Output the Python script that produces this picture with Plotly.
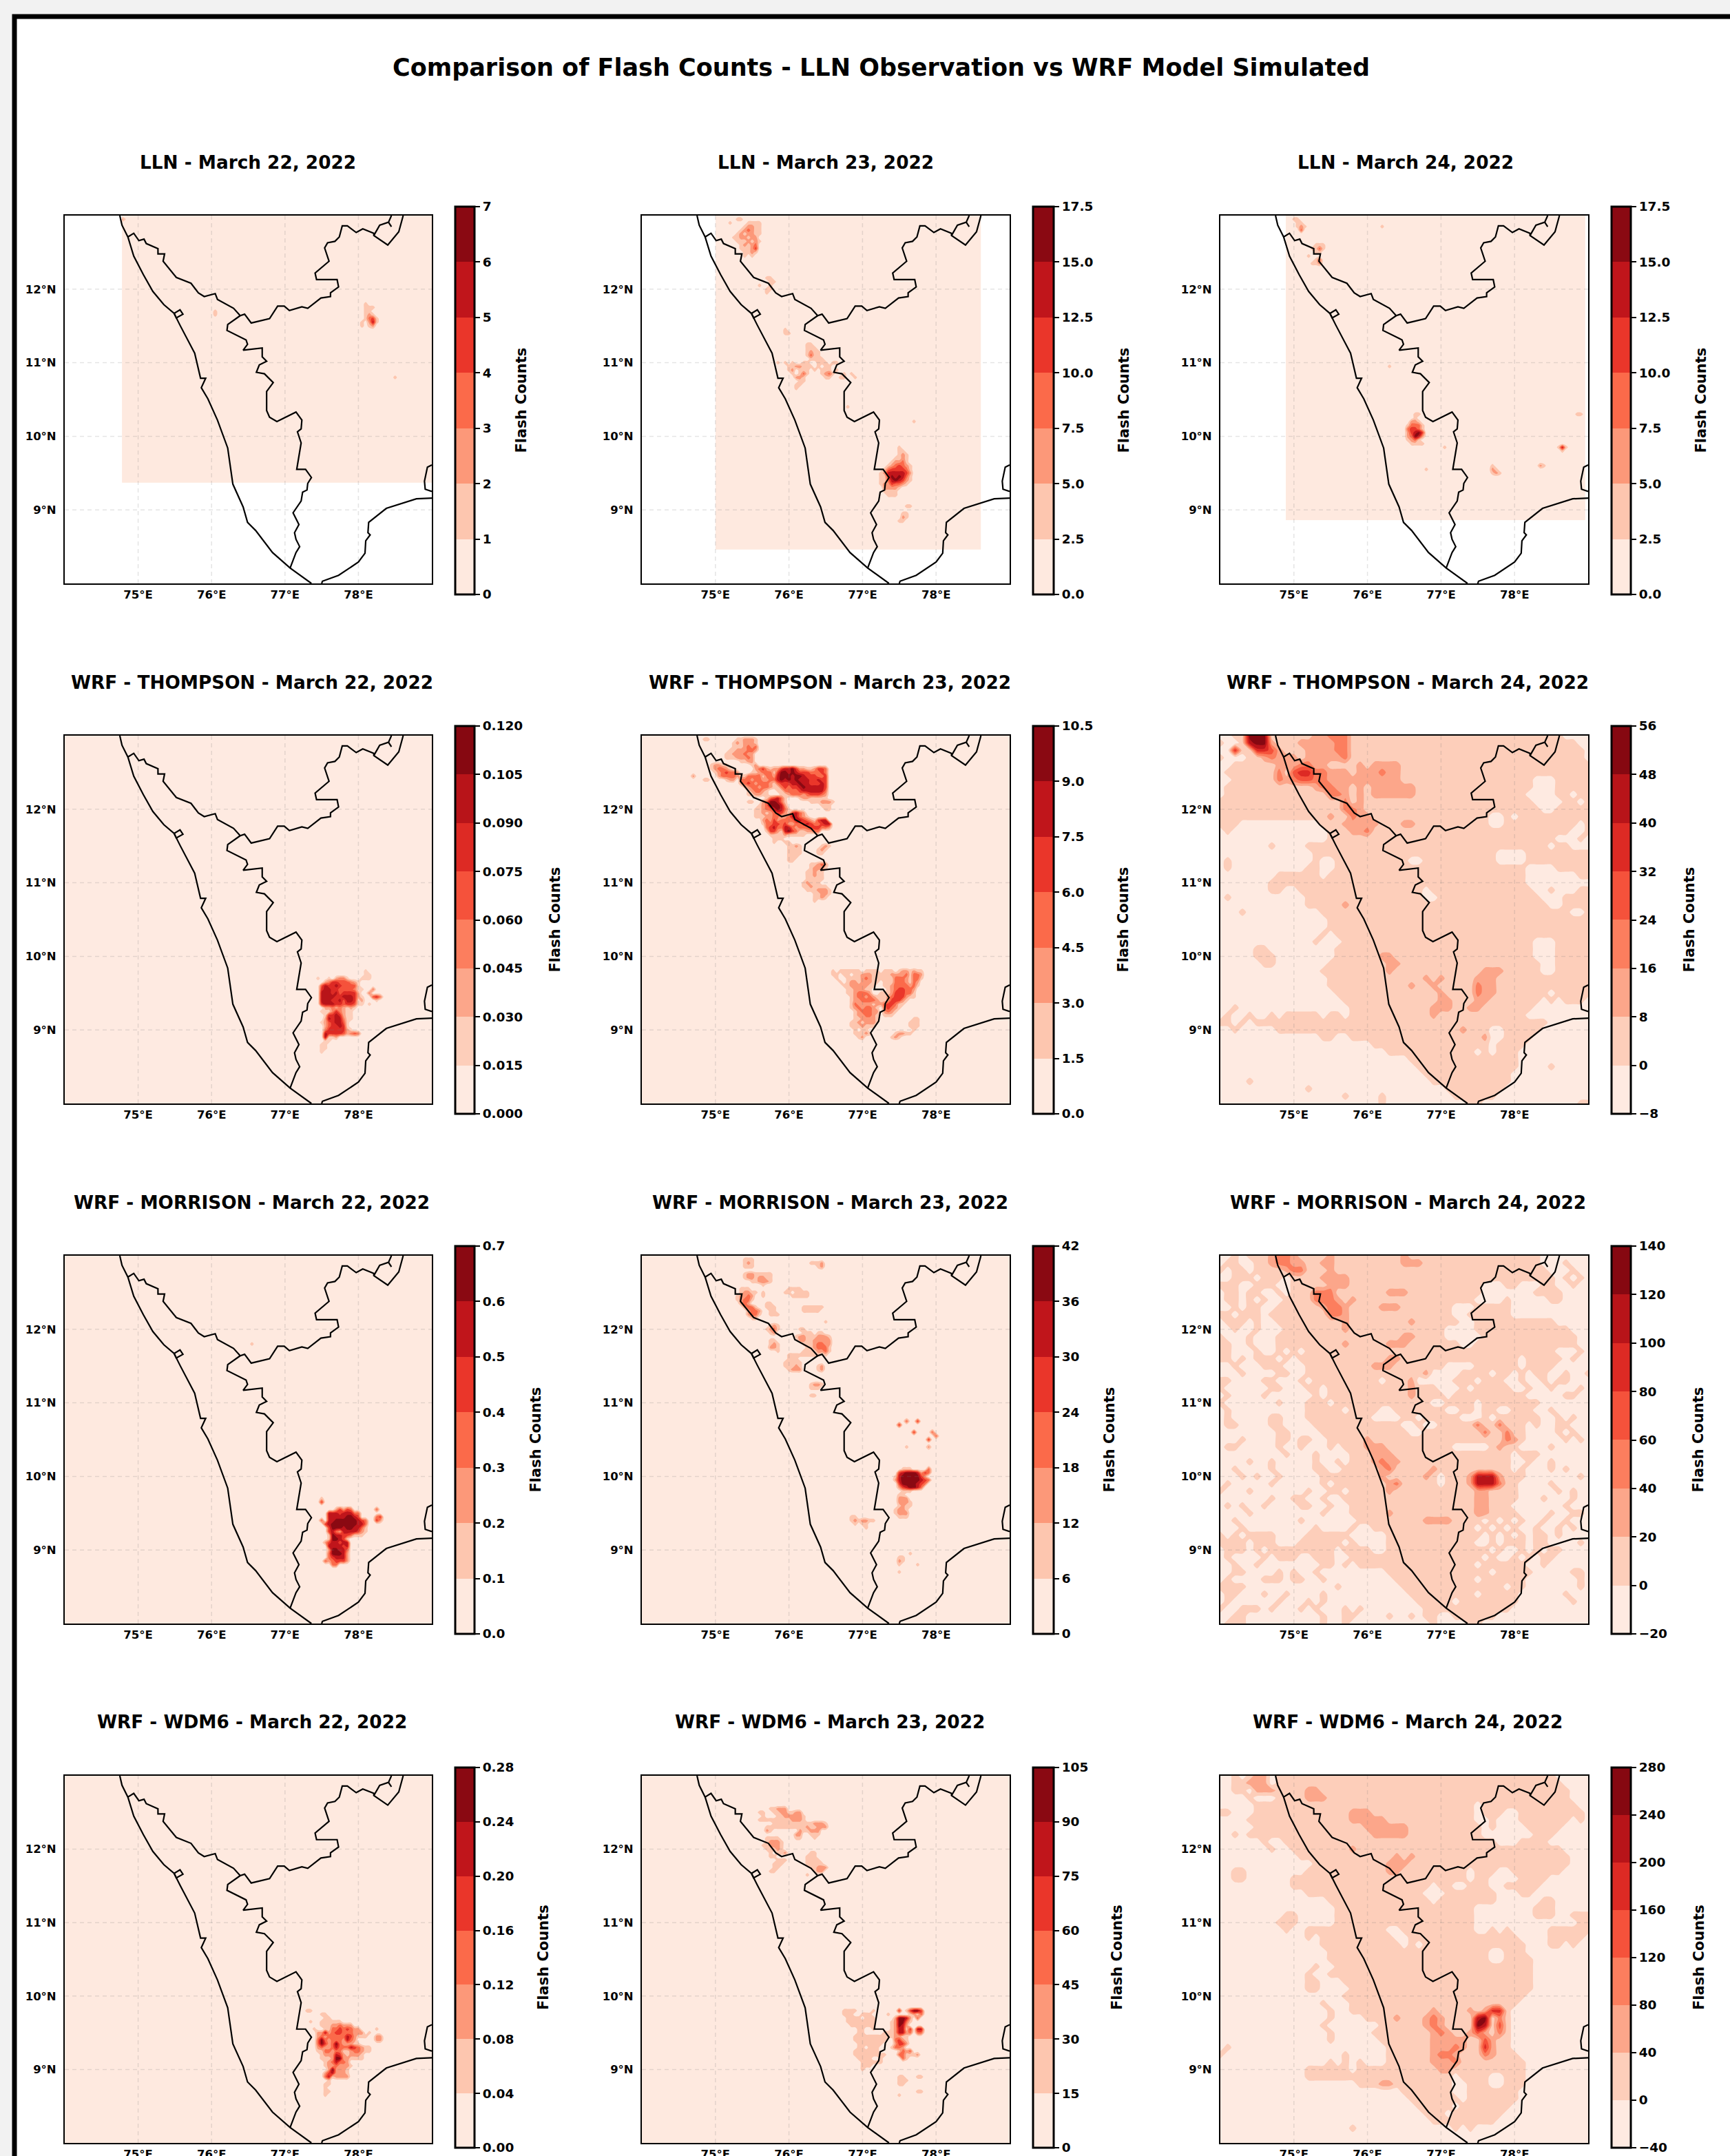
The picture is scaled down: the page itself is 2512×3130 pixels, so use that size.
import numpy as np
import plotly.graph_objects as go

W, H = 2512, 3130
MAIN_TITLE = "Comparison of Flash Counts - LLN Observation vs WRF Model Simulated"
BAR_TITLE = "Flash Counts"

# ---------- map outlines (lon, lat) ----------
WEST_COAST = [(74.75,13.0),(74.78,12.87),(74.86,12.71),(74.94,12.45),(75.07,12.20),(75.20,11.97),(75.35,11.79),(75.49,11.67),
 (75.57,11.51),(75.67,11.32),(75.77,11.13),(75.85,10.79),(75.92,10.79),(75.86,10.66),(75.95,10.51),(76.08,10.22),(76.22,9.84),
 (76.29,9.35),(76.43,9.04),(76.49,8.83),(76.60,8.72),(76.83,8.42),(77.07,8.21),(77.36,8.0)]
NORTH_BORDER = [(74.86,12.71),(74.94,12.76),(75.01,12.66),(75.08,12.68),(75.11,12.62),(75.27,12.55),(75.27,12.48),(75.36,12.48),
 (75.34,12.38),(75.52,12.16),(75.72,12.08),(75.82,11.95),(75.90,11.90),(76.05,11.94),(76.08,11.86),(76.30,11.74),(76.39,11.64),
 (76.45,11.66),(76.54,11.54),(76.79,11.60),(76.90,11.77),(76.99,11.77),(77.06,11.71),(77.23,11.76),(77.31,11.74),(77.49,11.88),
 (77.62,11.90),(77.62,11.95),(77.73,12.03),(77.71,12.13),(77.43,12.13),(77.41,12.22),(77.60,12.38),(77.54,12.56),(77.58,12.63),
 (77.68,12.65),(77.74,12.71),(77.78,12.86),(77.85,12.86),(77.97,12.77),(78.06,12.82),(78.21,12.76),(78.21,12.73),(78.40,12.60),
 (78.55,12.78),(78.61,13.0)]
NORTH_BRANCH = [(78.21,12.73),(78.29,12.87),(78.41,12.91),(78.45,13.0)]
NORTH_STUB = [(78.41,12.91),(78.45,12.85)]
EAST_BORDER = [(76.39,11.64),(76.22,11.52),(76.21,11.44),(76.47,11.31),(76.49,11.25),(76.43,11.17),(76.69,11.20),(76.69,11.08),
 (76.75,11.02),(76.65,10.97),(76.61,10.87),(76.72,10.85),(76.84,10.73),(76.75,10.61),(76.75,10.35),(76.79,10.26),(76.89,10.20),
 (77.15,10.33),(77.23,10.22),(77.22,10.10),(77.17,10.06),(77.22,9.91),(77.16,9.55),(77.28,9.55),(77.36,9.44),(77.31,9.36),
 (77.30,9.27),(77.24,9.24),(77.22,9.12),(77.11,8.96),(77.19,8.80),(77.13,8.69),(77.15,8.60),(77.20,8.50),(77.15,8.42),(77.07,8.21)]
MAHE = [(75.49,11.67),(75.57,11.72),(75.61,11.66),(75.52,11.61),(75.49,11.67)]
EAST_COAST = [(77.5,8.0),(77.51,8.03),(77.73,8.11),(78.0,8.29),(78.09,8.41),(78.10,8.58),(78.16,8.66),(78.13,8.69),(78.14,8.83),
 (78.38,9.02),(78.79,9.15),(79.0,9.16)]
ISLAND = [(79.0,9.61),(78.94,9.58),(78.90,9.39),(78.91,9.28),(79.0,9.25)]
OUTLINES = [WEST_COAST, NORTH_BORDER, NORTH_BRANCH, NORTH_STUB, EAST_BORDER, MAHE, EAST_COAST, ISLAND]

GRID_LONS = [75, 76, 77, 78]
GRID_LATS = [9, 10, 11, 12]
LON_LABELS = ["75°E", "76°E", "77°E", "78°E"]
LAT_LABELS = ["9°N", "10°N", "11°N", "12°N"]

# ---------- colour-bar labels per panel ----------
TICKS_LLN22 = ["0","1","2","3","4","5","6","7"]
TICKS_LLN23 = ["0.0","2.5","5.0","7.5","10.0","12.5","15.0","17.5"]
TICKS_TH22 = ["0.000","0.015","0.030","0.045","0.060","0.075","0.090","0.105","0.120"]
TICKS_TH23 = ["0.0","1.5","3.0","4.5","6.0","7.5","9.0","10.5"]
TICKS_TH24 = ["\u22128","0","8","16","24","32","40","48","56"]
TICKS_MO22 = ["0.0","0.1","0.2","0.3","0.4","0.5","0.6","0.7"]
TICKS_MO23 = ["0","6","12","18","24","30","36","42"]
TICKS_MO24 = ["\u221220","0","20","40","60","80","100","120","140"]
TICKS_WD22 = ["0.00","0.04","0.08","0.12","0.16","0.20","0.24","0.28"]
TICKS_WD23 = ["0","15","30","45","60","75","90","105"]
TICKS_WD24 = ["\u221240","0","40","80","120","160","200","240","280"]

# ---------- flash-count classes read from the maps ----------
# each row: (latitude, first longitude, class digit every 0.05 degrees); unlisted cells are class 0
LLN_22 = [(12.95,74.8,"2"),(11.8,78.1,"1"),(11.75,78.1,"111"),(11.7,78.1,"11"),(11.65,78.1,"121"),(11.6,78.1,"1341"),
 (11.55,78.05,"10251"),(11.5,78.05,"1012"),(11.7,76.05,"1"),(11.65,76.05,"1"),(10.8,78.5,"1")]
LLN_23 = [(12.95,75.25,"0110"),(12.9,75.2,"1000011110"),(12.85,75.2,"0000122110"),(12.8,75.2,"000123211"),(12.75,75.25,"01212211"),
 (12.7,75.25,"1122122"),(12.65,75.3,"1112121"),(12.6,75.35,"12123"),(12.55,75.35,"11124"),(12.5,75.4,"1121"),(12.45,75.4,"101"),
 (12.15,75.7,"11"),(12.1,75.7,"011"),(12.05,75.6,"1001"),(12.0,75.7,"11"),(11.95,75.7,"1"),
 (11.45,75.95,"1"),(11.4,75.95,"11"),(11.25,76.25,"11"),(11.2,76.25,"111"),(11.15,76.25,"1211"),(11.1,76.2,"01311"),
 (11.05,76.25,"01111"),(11.0,75.85,"10101001100111011"),(10.95,75.95,"01122111010110"),(10.9,76.0,"12011101011101"),
 (10.85,76.05,"10131000123100101"),(10.8,76.1,"22100000110011001"),(10.75,76.15,"11"),(10.7,76.1,"11"),(10.65,76.1,"1"),
 (10.4,76.8,"1"),(10.2,77.7,"1"),(9.85,77.5,"1"),(9.8,77.5,"11"),(9.75,77.5,"121"),(9.7,77.45,"1121"),(9.65,77.4,"12231"),
 (9.6,77.35,"1234321"),(9.55,77.3,"13444431"),(9.5,77.25,"125555542"),(9.45,77.25,"114656531"),(9.4,77.25,"113565421"),
 (9.35,77.25,"12243321"),(9.3,77.3,"22221"),(9.25,77.3,"1111"),(9.2,77.35,"111"),(9.05,77.6,"11"),(8.95,77.55,"11"),
 (8.9,77.55,"21"),(8.85,77.5,"11")]
LLN_24 = [(12.95,75.0,"11"),(12.9,75.05,"11"),(12.85,75.05,"121"),(12.8,75.1,"3"),(12.6,75.3,"111"),(12.55,75.25,"1131"),(12.5,75.3,"11"),
 (12.45,75.2,"1"),(12.4,75.3,"13"),(12.35,75.25,"112"),(10.3,76.65,"11"),(10.25,76.65,"1"),(10.2,76.6,"221"),(10.15,76.55,"13331"),
 (10.1,76.55,"34431"),(10.05,76.55,"24564"),(10.0,76.55,"23652"),(9.95,76.55,"1231"),(9.9,76.6,"1111"),(9.85,78.6,"151"),(9.8,78.65,"1"),
 (9.6,77.7,"1"),(9.55,77.7,"21"),(9.5,77.7,"121"),(9.6,78.35,"21"),(10.3,78.85,"11"),(10.95,76.3,"1"),(9.85,77.05,"1"),(9.55,76.8,"1"),(12.85,76.2,"1")]
TH_22 = [(9.7,77.45,"1001023310"),(9.65,77.5,"02355444321"),(9.6,77.45,"04655654444 10"),(9.55,77.45,"0566554444311"),(9.5,77.45,"0666564555520"),
 (9.45,77.45,"06666556665 21"),(9.4,77.45,"0666556466512"),(9.35,77.45,"056665545541101"),(9.3,77.5,"0223232121"),(9.25,77.5,"111353211"),
 (9.2,77.5,"015565211"),(9.15,77.5,"026566311"),(9.1,77.5,"124566410"),(9.05,77.55,"2455651"),(9.0,77.55,"35555521"),(8.95,77.55,"6555542343"),
 (8.9,77.55,"6112"),(8.85,77.55,"11"),(8.8,77.5,"11"),(8.75,77.5,"11"),(8.7,77.5,"1"),(9.8,78.1,"1"),(9.75,78.1,"11"),(9.7,78.05,"111"),
 (9.55,78.2,"3"),(9.5,78.1,"030"),(9.45,78.2,"453"),(9.4,78.25,"1")]
TH_23 = [(12.95,75.3,"112221"),(12.9,75.25,"1212221"),(12.85,75.25,"1112323"),(12.8,75.2,"11222332"),(12.75,75.15,"11222322"),(12.7,75.15,"11122232"),
 (12.65,75.35,"1122"),(12.6,75.5,"12"),(12.95,74.85,"11"),
 (12.55,75.85,"24556422112443"),(12.5,75.85,"46656544433343"),(12.45,75.85,"56665665444334"),(12.4,75.85,"56565655544544"),
 (12.35,75.85,"34445565544454"),(12.3,75.85,"13434456555554"),(12.25,75.85,"11333345555553"),(12.2,75.9,"1123332344432"),
 (12.15,76.15,"12211111"),(12.1,76.3,"1112221"),(12.05,76.45,"111"),(12.0,76.5,"11"),
 (12.55,75.55,"234212"),(12.5,75.5,"11233312"),(12.45,75.35,"1133331332"),(12.4,75.35,"3332332233"),(12.35,75.35,"2343233321"),(12.3,75.4,"123323321"),
 (12.25,75.4,"0123321"),(12.2,75.45,"112211"),
 (12.6,74.95,"12211"),(12.55,74.95,"123321"),(12.5,75.0,"1234332"),(12.45,75.05,"233332"),(12.4,75.15,"122"),(12.45,74.7,"2"),(12.4,74.85,"11"),
 (12.15,75.7,"134531"),(12.1,75.65,"2366531"),(12.1,75.45,"11"),(12.05,75.6,"12366652"),(12.0,75.55,"1123356531"),(11.95,75.55,"11212344214532"),
 (11.9,75.55,"111223312355321"),(11.85,75.65,"232423333554321455"),(11.8,75.65,"1334434223345433455"),(11.75,75.7,"345335532333444332"),
 (11.7,75.7,"144215643112233"),(11.65,75.75,"1111211111"),(11.6,75.8,"111"),(11.55,75.8,"10011"),
 (11.5,76.0,"1121"),(11.5,76.45,"121"),(11.45,76.0,"1111"),(11.45,76.4,"121"),(11.4,76.0,"1111"),(11.4,76.4,"11"),(11.35,76.0,"111"),(11.3,76.0,"11"),
 (11.25,76.3,"11232"),(11.2,76.3,"12221"),(11.15,76.25,"11211"),(11.1,76.25,"11211"),(11.05,76.25,"11111"),(11.0,76.2,"12111"),(10.95,76.2,"1121111"),
 (10.9,76.25,"1112221"),(10.85,76.35,"11221"),(10.8,76.35,"1121"),(10.75,76.35,"1"),
 (9.8,76.6,"1011111101111011101221211"),(9.75,76.6,"1101101122211111222231332"),(9.7,76.6,"0100111123211111133321331"),(9.65,76.6,"001012212221101113332132"),
 (9.6,76.7,"0112222211001123333231"),(9.55,76.7,"001122211000012344332"),(9.5,76.75,"01123332001112444331"),(9.45,76.8,"0123323211123444211"),
 (9.4,76.8,"01223333211244421"),(9.35,76.85,"132222122344311"),(9.3,76.85,"12323321034321"),(9.25,76.9,"123332202321"),(9.2,76.9,"12233210111"),
 (9.15,76.9,"112222100000000011"),(9.1,76.85,"11212221"),(9.1,77.65,"111"),(9.05,76.85,"1112111"),(9.05,77.65,"111"),(9.0,76.9,"1011"),(9.0,77.7,"1"),
 (8.95,76.9,"11121"),(8.95,77.45,"12211"),(8.9,76.95,"12"),(8.9,77.4,"121")]
MO_22 = [(9.55,77.7,"24243"),(9.5,77.6,"555455533"),(9.45,77.6,"5555566540"),(9.4,77.6,"55666666543"),(9.35,77.6,"56666666553"),(9.3,77.6,"46665665531"),
 (9.25,77.6,"45325555421"),(9.2,77.6,"1655443111"),(9.15,77.6,"166541"),(9.1,77.55,"2455455"),(9.05,77.6,"555545"),(9.0,77.6,"266553"),(8.95,77.6,"366652"),
 (8.9,77.6,"345552"),(8.85,77.55,"3234442"),(8.8,77.65,"33"),(9.7,77.5,"1"),(9.65,77.5,"4"),(9.4,77.5,"3"),(9.35,77.55,"4"),(9.55,78.25,"3"),(9.45,78.25,"34"),
 (9.4,78.25,"42"),(9.4,78.0,"3"),(9.35,78.0,"3"),(11.8,76.55,"1")]
MO_23 = [(12.95,75.4,"111"),(12.9,75.4,"121"),(12.85,75.4,"111"),(12.75,75.35,"012211111"),(12.7,75.4,"12212211"),(12.65,75.45,"0112221"),(12.6,75.65,"1"),
 (12.55,75.35,"111"),(12.5,75.35,"12211 01"),(12.45,75.3,"12232001"),(12.4,75.3,"12331"),(12.35,75.35,"232"),(12.3,75.4,"2331"),(12.25,75.45,"2332"),
 (12.2,75.45,"2331"),(12.15,75.5,"11"),(12.35,75.7,"11"),(12.3,75.7,"111"),(12.25,75.75,"11"),(12.2,75.75,"111"),(12.05,75.75,"121"),(12.0,75.7,"1231"),
 (11.95,75.75,"12"),(12.55,76.0,"1111"),(12.5,75.95,"1101111"),(12.45,76.05,"11111"),(12.3,76.2,"111111"),(12.25,76.2,"11111"),(12.1,76.5,"1"),(12.9,76.3,"1112"),
 (12.85,76.35,"012"),(12.0,76.15,"11"),(11.95,76.2,"111011"),(11.9,76.1,"1221112221"),(11.85,76.15,"221122222"),(11.8,76.2,"11123322"),(11.75,76.25,"1123331"),
 (11.7,76.2,"11112231"),(11.65,76.0,"111111111010"),(11.6,76.0,"111"),(11.55,75.95,"11111"),(11.5,75.95,"11121"),(11.45,76.0,"1222"),(11.5,76.4,"12"),(11.45,76.4,"12"),
 (11.85,75.75,"11"),(11.8,75.75,"121"),(11.75,75.75,"221"),(11.7,75.8,"01"),(11.25,76.3,"1221"),(11.2,76.3,"111"),(11.1,76.3,"11"),
 (10.1,77.55,"111"),(10.05,77.5,"4566652"),(10.0,77.45,"156666642"),(9.95,77.45,"2566666543"),(9.9,77.5,"46666543"),(9.85,77.5,"2456653"),(9.8,77.55,"111"),
 (10.05,77.85,"43"),(10.1,77.9,"3"),(9.75,77.5,"11"),(9.7,77.5,"222"),(9.65,77.5,"2221"),(9.6,77.5,"1211"),(9.55,77.45,"1221"),(9.5,77.45,"1222"),(9.45,77.5,"111"),
 (10.7,77.5,"4"),(10.75,77.6,"3"),(10.75,77.75,"4"),(10.6,77.7,"4"),(10.5,77.9,"4"),(10.6,77.95,"3"),(10.55,78.0,"3"),(10.4,77.9,"2"),(10.4,77.6,"1"),
 (9.45,76.85,"11"),(9.4,76.85,"121"),(9.35,76.9,"1"),(9.4,77.0,"2211"),(9.35,77.0,"11"),(9.3,77.05,"1"),(8.9,77.5,"11"),(8.85,77.5,"21"),(8.8,77.5,"1"),
 (8.95,77.65,"1"),(8.8,77.75,"1"),(8.7,77.5,"1")]
WD_22 = [(9.7,77.5,"011"),(9.65,77.5,"111111"),(9.6,77.5,"111223222"),(9.55,77.55,"1133434322"),(9.5,77.45,"2252344333222"),(9.45,77.45,"23233333542111"),
 (9.4,77.45,"36323332532"),(9.35,77.45,"364236322211"),(9.3,77.45,"232235333543211"),(9.25,77.45,"1133233112332"),(9.2,77.5,"122254212221"),(9.15,77.5,"111266221111"),
 (9.1,77.55,"1235332"),(9.05,77.55,"12232221"),(9.0,77.6,"262221"),(8.95,77.55,"2452221"),(8.9,77.55,"3512222"),(8.85,77.6,"1"),(8.8,77.55,"11"),(8.75,77.55,"1"),
 (8.7,77.55,"11"),(8.65,77.55,"1"),(9.45,78.2,"022"),(9.4,78.25,"22"),(9.5,78.15,"1"),(9.55,78.25,"1"),(9.3,78.05,"111"),(9.25,78.1,"11"),(9.75,77.5,"11"),(9.8,77.3,"11"),
 (9.65,77.35,"1"),(9.55,77.4,"1")]
WD_23 = [(12.55,75.75,"11222"),(12.5,75.6,"110011221122"),(12.45,75.6,"0100011222221"),(12.4,75.6,"1111111112221"),(12.35,75.8,"111111111112221"),
 (12.3,75.7,"11111111111211222"),(12.25,75.7,"210000000211222"),(12.2,76.1,"2200111"),(12.15,76.1,"110001"),(12.15,75.7,"1111"),(12.1,75.7,"12221"),(12.05,75.65,"112221"),
 (12.0,75.7,"11121"),(11.95,75.75,"10112"),(11.9,75.75,"11"),(11.85,75.8,"0111"),(11.8,75.8,"111"),(11.75,75.75,"011"),(11.7,75.75,"11"),(11.95,76.3,"11"),(11.9,76.25,"111"),
 (11.85,76.25,"1111"),(11.8,76.25,"11111"),(11.75,76.3,"11222"),(11.7,76.35,"122"),(11.65,76.25,"1"),
 (9.8,76.75,"11110000 1"),(9.8,77.5,"4014664"),(9.75,76.75,"111001110"),(9.75,77.35,"1"),(9.75,77.5,"000121 3"),(9.7,76.8,"11110111"),(9.7,77.45,"2665203"),
 (9.65,76.8,"11111111"),(9.65,77.4,"12663100"),(9.6,76.85,"1111111"),(9.6,77.4,"12652000"),(9.55,76.95,"11001"),(9.55,77.4,"125514055"),(9.5,76.95,"11"),(9.5,77.3,"11125523033"),
 (9.45,76.9,"11111111"),(9.45,77.3,"1112211"),(9.4,76.9,"111111111"),(9.4,77.45,"3421"),(9.35,76.95,"1111111"),(9.35,77.45,"2442"),(9.3,76.95,"110111"),(9.3,77.4,"1332"),
 (9.25,76.9,"1111111"),(9.25,77.5,"1323"),(9.2,76.9,"111111111"),(9.2,77.5,"331112"),(9.15,76.95,"1111001"),(9.15,77.55,"31"),(9.1,76.95,"0111111"),(9.05,76.95,"0111"),
 (9.0,77.0,"1"),(8.9,77.5,"11"),(8.9,77.75,"11"),(8.85,77.5,"111"),(8.8,77.5,"11"),(8.7,77.75,"11"),(8.65,77.5,"1")]

# whole-map rows, from 13.0N down to 8.0N, 0.1 degree steps, 74.0E to 79.0E
TH_24 = [
"0011777111 1112233311 1111111111 1111111111 11111110000","1001677211 1222223311 1111111111 1111111111 11111111100",
"0051155421 1122223311 1111111111 1111111111 11111111110","1000112322 2122222311 1111111111 1111111111 11111111110",
"0011111122 2332211112 1222211111 1111111111 11111111111","0111111131 4553322212 2232211111 1111111111 11111111111",
"0011111132 3443322222 2222211111 1111111111 11100011111","0111111111 1112332212 1222222111 1111111111 11100011111",
"0111111111 1111133212 1222222111 1111111111 11000011011","1111111111 1111111312 1111111111 1111111111 11100001101",
"1111111111 1111111332 1111111111 1111111111 11110011111","1111111111 1111121132 2111111111 1111111001 01111111111",
"1110000000 0000111222 2211122111 1111111001 11111111101","0100000000 0000011122 3111111111 1111111111 11111111001",
"0000000000 0000011111 1111111111 1111111111 11111100010","0000000100 0011111111 1111111111 1111111111 11111011000",
"0000000000 0001111111 1111111111 1111111100 00111111111","0100000000 0001001111 1111110011 1111111100 00111111111",
"0100000000 0011001111 1111111111 1111111111 11000011111","0000000011 1111011111 1111111111 1111111111 11000000011",
"0000000111 1111111111 1111111111 1111111111 11000000000","0000000110 0111111111 1111111101 1111111111 11100100011",
"0100000000 0011111111 1111111100 1111111111 11110001111","0000000000 0011111211 1111111111 1111111111 11111001111",
"0001000000 0000111111 1111111111 1111111111 11111111001","0000000000 0000011111 1111111111 1111111111 11111111111",
"0000000000 0000011111 1111111111 1111111111 11111111111","0000000000 0000101111 1111111111 1111111111 11111111111",
"0000000000 0001000111 1111111111 1111111111 11100011111","0000011000 0000001111 1111111111 1111111111 11100011111",
"0000011100 0000001111 1122111111 1111111111 11100011111","0000001100 0000011111 1112211111 1111111111 11110011111",
"0000000000 0000111111 1112111111 1111112221 11110011111","0000000000 0000011111 1111111121 2111122211 11111111111",
"0000000000 0000011111 1111112112 1111132211 11111111111","0000000000 0000001111 1111111111 2111132211 11111011111",
"0000000000 0000000111 1111111111 2211122111 11110101110","0010000000 0000000011 1111111112 2211221111 11100000000",
"0100100101 1111011011 1111111112 1111111111 11000000000","1101011111 1111111111 1111111111 1111111111 11111000000",
"0010000011 1111111111 1111111111 1112111001 11110000000","0000000000 0000110011 1111111111 1111112001 11100000000",
"0000000000 0000000000 0111111111 1111111011 11000000000","0000000000 0000000000 0001111111 1111101011 10000000000",
"0000000000 0000000000 0000001111 1111111111 10000000000","0000000000 0000000000 0000000111 1111111111 10000100000",
"0000000000 0000000000 0000000011 1111111111 00000000000","0000100000 0000000000 0000000001 1111111111 00000000000",
"0000000000 0010000000 0000000000 0111111110 00000000000","0000000000 0000000100 0010000000 0011111100 00000000000",
"0000000000 0000000000 0010000000 0000110000 00000000011"]
MO_24 = [
"0010111233 2111121111 1111121111 1111111111 11110000000","0110011233 2211221111 1111122211 1111111111 11110001000",
"1011011112 3311121111 1111111111 1111111111 11111000100","0011101110 1111222211 1111111111 1111111111 11111101010",
"1110011100 1111122211 1111111111 1111110001 10001100100","0110110010 1113331111 1112221111 1111110000 00011110000",
"0110101001 1113332121 1111111111 1111100001 00000110000","0010110011 1111233211 1122211111 1100011111 00000000000",
"1101110111 1111133211 1111111111 1100111111 00000000000","0111010011 1111111211 1111112111 1110011111 11111100000",
"0010010001 1111111211 1111111111 1000011111 11111111000","1000100011 1111111111 1111122111 1000001111 11111111100",
"1100100011 1111111211 1112221111 1110011111 11111111100","1100010010 1011111111 1111111111 1111111111 11111100010",
"1101011101 0111111111 1112211111 1111111111 10111110100","0010001110 0011111111 1222111111 1000011111 10111100000",
"0001000011 0011111111 1111111120 0001111011 01011001001","1100001100 0101111111 1101112000 0011101110 01001011000",
"1000000110 0011011111 1111112111 0001011111 00100100010","0100001000 0001011111 1111112111 1011111111 11000001100",
"1000000010 0011101111 1111111110 0111101111 11110000000","0100000000 0011111011 1100111111 1001101100 11100100000",
"0100000110 0011111111 1000011011 1110001011 11110010100","0110000110 0001111111 1111100100 1111131131 11010011000",
"0000000011 0000111111 1111110011 1111113113 11000010100","0001000011 0110011111 2111111111 1111111113 21000001010",
"0110000010 0100010111 2221111111 1100000121 10000100000","0000000001 0001000011 1222111111 1111111111 01110000000",
"0000100100 0001001011 1232211111 1111111111 00100100000","0010000100 0001100111 1123111112 1111111111 01000101000",
"0001010010 0000111111 1121111121 0111266621 11000000010","0100000100 0000101111 1112311111 0111266631 10000100000",
"1000100000 0010011011 1112111111 1111122111 10000010100","0000000100 1100100111 1111111111 1111122111 10001000100",
"0101001000 0110010011 1111111111 1111122111 00000001000","0000100000 0000100011 1112111111 1111122111 10000100110",
"0010000000 0100000001 1111111122 2211110101 01001001000","0001000000 0001000010 0111111111 1111101010 10010010100",
"1010111100 0011111100 0001111111 1111110101 01011010000","1111011100 0111111010 0001111111 1111100101 11011000010",
"0111010111 1111110111 1001111111 1111111010 01010110000","0100001011 1001110011 1111111111 1111110100 10101100000",
"0010010000 0000110101 1111111111 1111101111 11001000000","0011000010 1001000000 0001111111 1111111011 11100000110",
"0100001110 1100100000 0000111111 1111101111 11000000010","1111000000 0000001000 0000011111 1111111110 11000000010",
"0110001001 0000100000 0000001111 1111101111 10000001000","0100000010 0010100000 0000000111 1101111111 10000000100",
"1001110100 0101000101 0000000011 1111111111 00000000000","0011000000 0000100110 0001001011 0011111100 00000000000",
"0111000000 0000100100 0000000001 0000110000 00000000000"]
WD_24 = [
"0010122011 1111111111 1111111111 1111111111 11111100000","0011222011 1111111111 1111111111 1111111111 11111110000",
"0011022211 1122111111 1111111111 1111111111 11111111000","0000100011 1122211111 1111111111 1111111111 11111111000",
"0000011111 1111111111 1111111111 1111101111 11111111100","1100011111 1111111122 2111111111 1111101110 01111111110",
"0000111111 1111111122 2221111111 1111100100 01111111010","0000011111 1111111111 2222221111 1111110100 00111110000",
"0010111111 1111111111 1222221111 1111110000 00011100000","0000001001 1111111111 1111111111 1111111100 01111000000",
"0000000100 1111111121 1111111111 1111111111 11111110000","0000000000 0111111111 1111212111 1111111111 11111111000",
"0000000000 0001111111 1112221111 1111111111 11111111000","0011000000 0011111111 1112211111 1111011100 11111110000",
"0011000000 1111111111 1111111111 1111011000 01111000000","0000000000 1111111111 1111111110 1100111001 11110000000",
"0000000000 0011111111 1111111100 0111111100 01100000000","0000000000 0000011111 1111111110 1111111100 00001100000",
"0000000000 0000001111 1111111111 1111100000 00011100000","0000000001 1000001111 1111111111 1111100000 00011100111",
"0000000011 1000001111 1111111111 1111100000 00000000011","0000000001 0011111111 1110011111 1111100101 00000111111",
"0000000000 0010111111 1111001111 1111111111 10000111110","0000000000 0000111111 1111101011 1111111111 11000110100",
"0000000000 0000011111 1111111111 1111111001 11000000000","0000000000 0000011111 1111111111 1111111001 11100000000",
"0000000000 0001001111 1111111111 1111111111 11100000000","0000000000 0010011111 1111111111 1111111111 11100000000",
"0000000000 0011000111 1111111111 1111111111 11100000000","0000000000 0011000011 1111111111 1111111111 11100000000",
"0000000000 0000000111 1111111111 1111111111 11000000000","0000000000 0000100011 1111111111 1111111111 10000000000",
"0000000000 0000010011 1111111112 1111212551 00000000000","0000000000 0000010000 1111211123 2111167131 00000000000",
"0000000000 0000100000 0011111123 2111176141 00000000000","0000000000 0000010000 0111111112 3211242131 00000000000",
"0000000000 0000010000 0011111112 2222114211 00000000000","0100000000 0000000000 0001111112 2232115211 00000000000",
"1000000000 0000000100 0001111112 3321113211 10000000000","0000000000 0000010101 0001111112 2231111111 11000000000",
"0000000000 0011111101 1111111111 2211111111 11000000000","0000000000 0011111111 1111111111 1101111001 11000000000",
"0000000000 0000000001 1122111111 1100111001 11000000000","0000000000 0000000000 0000011111 1100111111 10000000000",
"0000000000 0000000000 0000001111 1110111111 10000000000","0000000000 0000000000 0000000111 1101111111 00000000000",
"0000000000 0000000000 0000000011 1011111110 00000000000","0000000000 0000000000 0000000001 1111111100 00000000000",
"0000000000 0000000010 0000000000 0010100000 00000000000","0000000000 0000000000 0000000000 0000000000 00000000000",
"0000000000 0000000000 0000000000 0000000000 00000000000"]

PANELS = [
 ("LLN - March 22, 2022", LLN_22, 0.05, TICKS_LLN22, (74.78,79.0,9.37,13.0)),
 ("LLN - March 23, 2022", LLN_23, 0.05, TICKS_LLN23, (75.0,78.61,8.46,13.0)),
 ("LLN - March 24, 2022", LLN_24, 0.05, TICKS_LLN23, (74.89,78.96,8.86,13.0)),
 ("WRF - THOMPSON - March 22, 2022", TH_22, 0.05, TICKS_TH22, (74,79,8,13)),
 ("WRF - THOMPSON - March 23, 2022", TH_23, 0.05, TICKS_TH23, (74,79,8,13)),
 ("WRF - THOMPSON - March 24, 2022", TH_24, 0.1, TICKS_TH24, (74,79,8,13)),
 ("WRF - MORRISON - March 22, 2022", MO_22, 0.05, TICKS_MO22, (74,79,8,13)),
 ("WRF - MORRISON - March 23, 2022", MO_23, 0.05, TICKS_MO23, (74,79,8,13)),
 ("WRF - MORRISON - March 24, 2022", MO_24, 0.1, TICKS_MO24, (74,79,8,13)),
 ("WRF - WDM6 - March 22, 2022", WD_22, 0.05, TICKS_WD22, (74,79,8,13)),
 ("WRF - WDM6 - March 23, 2022", WD_23, 0.05, TICKS_WD23, (74,79,8,13)),
 ("WRF - WDM6 - March 24, 2022", WD_24, 0.1, TICKS_WD24, (74,79,8,13)),
]

# ---------- page geometry (pixels) ----------
COL_AX = [(94, 627), (932, 1466), (1772, 2306)]
ROW_AX = [(313, 847), (1068, 1602), (1823, 2357), (2578, 3111)]
COL_BAR = [(661, 689), (1500, 1530), (2340, 2368)]
ROW_BAR = [(300, 863), (1054, 1617), (1809, 2372), (2566, 3118)]
TITLE_Y = [236, 991, 1746, 2500]
TITLE_X = [[360, 1199, 2041], [366, 1205, 2044], [365, 1205, 2044], [366, 1205, 2044]]
BAR_TITLE_X = [[757, 1632, 2470], [805, 1630, 2452], [777, 1610, 2465], [789, 1622, 2467]]
FONT = "DejaVu Sans"
BLACK = "#000000"


def px(x):
    return x / W


def py(y):
    return 1 - y / H


REDS = [(255,245,240),(254,224,210),(252,187,161),(252,146,114),(251,106,74),(239,59,44),(203,24,29),(165,15,21),(103,0,13)]


def reds(t):
    p = t * 8
    i = min(int(p), 7)
    f = p - i
    c = [REDS[i][k] + (REDS[i + 1][k] - REDS[i][k]) * f for k in range(3)]
    return "rgb(%d,%d,%d)" % tuple(round(v) for v in c)


def contour_scale(n):
    cols = [reds((k + 0.5) / n) for k in range(n)]
    scale = [[0, cols[0]]]
    for k in range(n):
        scale.append([(k + 1) / (n + 1), cols[k]])
    scale.append([1, cols[-1]])
    return scale


def stepped_scale(n):
    scale = []
    for k in range(n):
        col = reds((k + 0.5) / n)
        scale += [[k / n, col], [(k + 1) / n, col]]
    return scale


def class_grid(rows, res):
    count = int(round(5 / res)) + 1
    nodes_x = [74 + i * res for i in range(count)]
    nodes_y = [8 + i * res for i in range(count)]
    grid = np.zeros((count, count))
    parsed = rows
    if isinstance(rows[0], str):
        parsed = [(13 - i * res, 74.0, r) for i, r in enumerate(rows)]
    for lat, lon0, digits in parsed:
        j = int(round((lat - 8) / res))
        i0 = int(round((lon0 - 74) / res))
        for k, ch in enumerate(digits.replace(" ", "")):
            if 0 <= j < count and i0 + k < count:
                grid[j, i0 + k] = max(grid[j, i0 + k], int(ch))
    return np.array(nodes_x), np.array(nodes_y), grid + 0.5


def clip_to_extent(xs, ys, z, ext):
    lon0, lon1, lat0, lat1 = ext
    mx = (xs >= lon0 - 1e-9) & (xs <= lon1 + 1e-9)
    my = (ys >= lat0 - 1e-9) & (ys <= lat1 + 1e-9)
    xs2, ys2 = xs[mx].copy(), ys[my].copy()
    xs2[0], xs2[-1] = lon0, lon1
    ys2[0], ys2[-1] = lat0, lat1
    return xs2, ys2, z[np.ix_(my, mx)]


fig = go.Figure()
layout = dict(
    width=W, height=H, autosize=False, margin=dict(l=0, r=0, t=0, b=0, pad=0, autoexpand=False),
    paper_bgcolor="#f2f2f2", plot_bgcolor="#ffffff", showlegend=False,
    font=dict(family=FONT, color=BLACK),
)
annotations = [dict(
    text=MAIN_TITLE, x=px(1279), y=py(98), xref="paper", yref="paper", showarrow=False,
    xanchor="center", yanchor="middle", font=dict(family=FONT, size=35, weight=700, color=BLACK))]
shapes = [dict(type="rect", xref="paper", yref="paper", x0=px(21), y0=py(H + 30), x1=px(W + 30), y1=py(24),
               line=dict(color=BLACK, width=7), fillcolor="#ffffff", layer="below")]

grid_x, grid_y = [], []
for lon in GRID_LONS:
    grid_x += [lon, lon, None]
    grid_y += [8, 13, None]
for lat in GRID_LATS:
    grid_x += [74, 79, None]
    grid_y += [lat, lat, None]
line_x, line_y = [], []
for seg in OUTLINES:
    line_x += [p[0] for p in seg] + [None]
    line_y += [p[1] for p in seg] + [None]

for idx, (title, rows, res, ticks, ext) in enumerate(PANELS):
    r, c = idx // 3, idx % 3
    ax = "" if idx == 0 else str(idx + 1)
    n = len(ticks) - 1
    xs, ys, z = clip_to_extent(*class_grid(rows, res), ext)
    bx0, bx1 = COL_BAR[c]
    by0, by1 = ROW_BAR[r]
    fig.add_trace(go.Contour(
        x=xs, y=ys, z=z, xaxis="x" + ax, yaxis="y" + ax, autocontour=False, hoverinfo="skip", showscale=False,
        contours=dict(start=0, end=n, size=1, coloring="fill", showlines=False),
        line=dict(width=0, smoothing=0.7), colorscale=contour_scale(n),
    ))
    fig.add_trace(go.Scatter(x=grid_x, y=grid_y, xaxis="x" + ax, yaxis="y" + ax, mode="lines", hoverinfo="skip",
                             line=dict(color="rgba(120,120,120,0.2)", width=1.5, dash="6px,5px")))
    fig.add_trace(go.Scatter(x=line_x, y=line_y, xaxis="x" + ax, yaxis="y" + ax, mode="lines", hoverinfo="skip",
                             line=dict(color=BLACK, width=2.2)))
    # colour key for the panel
    fig.add_trace(go.Scatter(
        x=[None], y=[None], xaxis="x" + ax, yaxis="y" + ax, mode="markers", hoverinfo="skip",
        marker=dict(color=[0], cmin=0, cmax=n, colorscale=stepped_scale(n), showscale=True, colorbar=dict(
            x=px(bx0), xanchor="left", y=py(by0), yanchor="top", xpad=0, ypad=0,
            len=by1 - by0, lenmode="pixels", thickness=bx1 - bx0, thicknessmode="pixels",
            outlinewidth=3, outlinecolor=BLACK, borderwidth=0, bgcolor="rgba(0,0,0,0)",
            ticks="outside", ticklen=7, tickwidth=2, tickcolor=BLACK,
            tickmode="array", tickvals=list(range(n + 1)), ticktext=ticks,
            tickfont=dict(family=FONT, size=18.5, weight=700, color=BLACK),
        )),
    ))
    x0, x1 = COL_AX[c]
    y0, y1 = ROW_AX[r]
    tickfont = dict(family=FONT, size=16.5, weight=700, color=BLACK)
    layout["xaxis" + ax] = dict(
        domain=[px(x0), px(x1)], range=[74, 79], anchor="y" + ax, showgrid=False, zeroline=False,
        showline=True, mirror=True, linecolor=BLACK, linewidth=2, ticks="",
        tickmode="array", tickvals=GRID_LONS, ticktext=LON_LABELS, tickfont=tickfont, tickangle=0)
    layout["yaxis" + ax] = dict(
        domain=[py(y1), py(y0)], range=[8, 13], anchor="x" + ax, showgrid=False, zeroline=False,
        showline=True, mirror=True, linecolor=BLACK, linewidth=2, ticks="outside", ticklen=7,
        tickcolor="rgba(0,0,0,0)", tickmode="array", tickvals=GRID_LATS, ticktext=LAT_LABELS, tickfont=tickfont, tickangle=0)
    annotations.append(dict(
        text=title, x=px(TITLE_X[r][c]), y=py(TITLE_Y[r]), xref="paper", yref="paper", showarrow=False,
        xanchor="center", yanchor="middle", font=dict(family=FONT, size=26.3, weight=700, color=BLACK)))
    annotations.append(dict(
        text=BAR_TITLE, x=px(BAR_TITLE_X[r][c]), y=py((by0 + by1) / 2), xref="paper", yref="paper", showarrow=False,
        textangle=-90, xanchor="center", yanchor="middle", font=dict(family=FONT, size=21, weight=700, color=BLACK)))

layout["annotations"] = annotations
layout["shapes"] = shapes
fig.update_layout(**layout)
PAGE_CSS = ("var s=document.createElement('style');"
            "s.textContent='html,body{margin:0;padding:0;overflow:hidden;background:#ffffff}"
            " .plotly-graph-div{display:block}';document.head.appendChild(s);")
fig.write_html("out.html", config={"displayModeBar": False}, post_script=PAGE_CSS)
